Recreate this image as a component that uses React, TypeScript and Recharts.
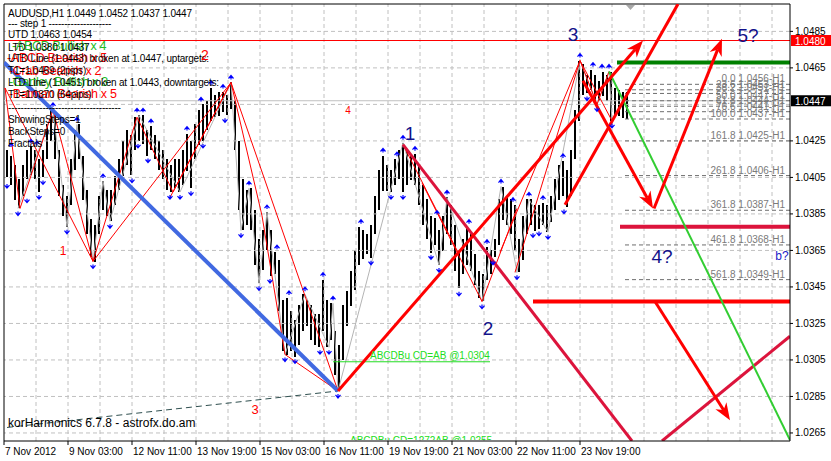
import React from 'react';
import { ComposedChart, Bar, Scatter, Line, XAxis, YAxis, ReferenceLine } from 'recharts';

const FONT = "'Liberation Sans', Arial, Helvetica, sans-serif";

// 2-hour bars (high / low)
const barHighs = [
  1.0420, 1.0417, 1.0412, 1.0404, 1.0412, 1.0420, 1.0422, 1.0420, 1.0415, 1.0420,
  1.0434, 1.0442, 1.0439, 1.0420, 1.0401, 1.0395, 1.0415, 1.0431, 1.0434, 1.0417,
  1.0398, 1.0382, 1.0379, 1.0395, 1.0403, 1.0398, 1.0398, 1.0406, 1.0415, 1.0425,
  1.0431, 1.0428, 1.0438, 1.0439, 1.0439, 1.0431, 1.0433, 1.0428, 1.0425, 1.0420,
  1.0415, 1.0412, 1.0415, 1.0415, 1.0420, 1.0429, 1.0425, 1.0434, 1.0442, 1.0445,
  1.0447, 1.0454, 1.0450, 1.0452, 1.0452, 1.0450, 1.0457, 1.0447, 1.0425, 1.0404,
  1.0398, 1.0399, 1.0387, 1.0371, 1.0376, 1.0386, 1.0376, 1.0364, 1.0360, 1.0338,
  1.0339, 1.0332, 1.0327, 1.0335, 1.0341, 1.0338, 1.0335, 1.0330, 1.0330, 1.0349,
  1.0338, 1.0336, 1.0321, 1.0313, 1.0335, 1.0343, 1.0354, 1.0365, 1.0378, 1.0376,
  1.0374, 1.0379, 1.0395, 1.0409, 1.0417, 1.0412, 1.0409, 1.0415, 1.0420, 1.0424,
  1.0420, 1.0417, 1.0418, 1.0412, 1.0401, 1.0393, 1.0384, 1.0383, 1.0376, 1.0384,
  1.0394, 1.0390, 1.0379, 1.0365, 1.0371, 1.0378, 1.0374, 1.0363, 1.0354, 1.0352,
  1.0367, 1.0365, 1.0371, 1.0393, 1.0400, 1.0395, 1.0393, 1.0390, 1.0371, 1.0384,
  1.0393, 1.0393, 1.0390, 1.0390, 1.0391, 1.0390, 1.0395, 1.0404, 1.0412, 1.0414,
  1.0409, 1.0420, 1.0442, 1.0469, 1.0467, 1.0461, 1.0464, 1.0461, 1.0458, 1.0463,
  1.0461, 1.0463, 1.0454, 1.0453, 1.0452, 1.0452,
];
const barLows = [
  1.0405, 1.0401, 1.0393, 1.0388, 1.0395, 1.0404, 1.0406, 1.0404, 1.0397, 1.0405,
  1.0415, 1.0425, 1.0415, 1.0395, 1.0384, 1.0378, 1.0390, 1.0409, 1.0415, 1.0393,
  1.0374, 1.0361, 1.0359, 1.0374, 1.0387, 1.0384, 1.0381, 1.0390, 1.0398, 1.0406,
  1.0412, 1.0406, 1.0420, 1.0425, 1.0423, 1.0417, 1.0420, 1.0415, 1.0409, 1.0404,
  1.0398, 1.0397, 1.0399, 1.0397, 1.0401, 1.0409, 1.0399, 1.0415, 1.0423, 1.0425,
  1.0431, 1.0436, 1.0438, 1.0439, 1.0441, 1.0439, 1.0442, 1.0420, 1.0387, 1.0376,
  1.0379, 1.0376, 1.0357, 1.0347, 1.0354, 1.0365, 1.0351, 1.0352, 1.0332, 1.0310,
  1.0308, 1.0310, 1.0307, 1.0313, 1.0321, 1.0324, 1.0316, 1.0313, 1.0312, 1.0321,
  1.0312, 1.0316, 1.0297, 1.0288, 1.0305, 1.0324, 1.0335, 1.0343, 1.0357, 1.0360,
  1.0363, 1.0361, 1.0374, 1.0387, 1.0398, 1.0398, 1.0397, 1.0401, 1.0404, 1.0397,
  1.0401, 1.0404, 1.0401, 1.0390, 1.0379, 1.0371, 1.0364, 1.0368, 1.0357, 1.0365,
  1.0374, 1.0368, 1.0354, 1.0344, 1.0352, 1.0357, 1.0354, 1.0346, 1.0339, 1.0337,
  1.0349, 1.0352, 1.0361, 1.0368, 1.0382, 1.0379, 1.0374, 1.0365, 1.0353, 1.0360,
  1.0374, 1.0379, 1.0376, 1.0377, 1.0379, 1.0375, 1.0381, 1.0387, 1.0393, 1.0395,
  1.0389, 1.0395, 1.0415, 1.0436, 1.0450, 1.0451, 1.0453, 1.0445, 1.0447, 1.0450,
  1.0447, 1.0436, 1.0438, 1.0439, 1.0438, 1.0437,
];

const timeTicks = [-0.75, 15.25, 31.25, 47.25, 63.25, 79.25, 95.25, 111.25, 127.25, 143.25];
const timeLabels = ['7 Nov 2012', '9 Nov 03:00', '12 Nov 11:00', '13 Nov 19:00', '15 Nov 03:00',
  '16 Nov 11:00', '19 Nov 19:00', '21 Nov 03:00', '22 Nov 11:00', '23 Nov 19:00'];
const priceTicks = [1.0265, 1.0285, 1.0305, 1.0325, 1.0345, 1.0365, 1.0385, 1.0405, 1.0425, 1.0465, 1.0485];
const gridPrices = [1.0265, 1.0285, 1.0305, 1.0325, 1.0345, 1.0365, 1.0385, 1.0405, 1.0425, 1.0445, 1.0465, 1.0485];
const gridIdx = Array.from({ length: 24 }, (_, k) => -0.75 + 8 * (k + 1));

const fractalUp = [
  [1, 1.0420], [6, 1.0422], [7.5, 1.0421], [11.5, 1.0442], [17.5, 1.0434], [24, 1.0403],
  [32.5, 1.0439], [34, 1.0439], [36, 1.0433], [45, 1.0429], [48.5, 1.0445], [51, 1.0454],
  [54, 1.0452], [56, 1.0457], [60.5, 1.0399], [65, 1.0386], [67.5, 1.0364], [70.5, 1.0339],
  [74.5, 1.0341], [79, 1.0349], [81.5, 1.0336], [88.5, 1.0378], [94, 1.0417], [97.5, 1.0415],
  [99, 1.0424], [102, 1.0418], [107.5, 1.0383], [110, 1.0394], [115.5, 1.0378], [120, 1.0367],
  [123.5, 1.0400], [126.5, 1.0390], [130.5, 1.0393], [134, 1.0391], [139, 1.0414],
  [143.25, 1.0469], [146.5, 1.0464], [148.75, 1.0463], [150.5, 1.0463],
];
const fractalDown = [
  [0, 1.0403], [2.75, 1.0388], [5, 1.0395], [8, 1.0397], [9, 1.0405], [15, 1.0378],
  [21.5, 1.0359], [25.75, 1.0381], [31.25, 1.0406], [32.75, 1.0425], [35.25, 1.0417],
  [40.75, 1.0397], [43.25, 1.0397], [46, 1.0399], [49, 1.0425], [54.5, 1.0439], [58.5, 1.0376],
  [63, 1.0347], [65.75, 1.0351], [69.5, 1.0308], [72, 1.0307], [78.25, 1.0312], [80.5, 1.0312],
  [82.75, 1.0288], [91, 1.0361], [96, 1.0397], [99, 1.0397], [106, 1.0364], [108, 1.0357],
  [113, 1.0344], [118.75, 1.0337], [121.5, 1.0361], [127.5, 1.0353], [131.5, 1.0376],
  [133, 1.0377], [135.25, 1.0375], [139.25, 1.0389], [145, 1.0451], [147.5, 1.0445], [151.25, 1.0436],
];
const zigzag = [
  [2.75, 1.0388], [11.5, 1.0442], [15, 1.0378], [17.5, 1.0434], [21.5, 1.0359], [24, 1.0403],
  [25.75, 1.0381], [33, 1.0439], [43.25, 1.0397], [56, 1.0457], [58.5, 1.0376], [60.5, 1.0399],
  [63, 1.0347], [65, 1.0386], [69.5, 1.0308], [74.5, 1.0341], [80.5, 1.0312], [81.5, 1.0336],
  [82.75, 1.0288], [99, 1.0424], [108, 1.0357], [110, 1.0394], [118.75, 1.0337], [123.5, 1.0400],
  [127.5, 1.0353], [130.5, 1.0393], [135.25, 1.0375], [143.25, 1.0469], [147.5, 1.0445],
  [150.5, 1.0463], [151.25, 1.0436],
];
const thinRed = [
  [-0.5, 1.0454, 3.25, 1.0388], [3.25, 1.0388, 11.5, 1.0442], [-0.5, 1.0454, 21.5, 1.0359],
  [11.5, 1.0442, 21.5, 1.0359], [21.5, 1.0359, 32.5, 1.0438], [21.5, 1.0359, 56, 1.0457],
  [32.5, 1.0438, 41.5, 1.0397], [41.5, 1.0397, 56, 1.0457], [40.5, 1.0393, 55.5, 1.0455],
  [56, 1.0457, 82.75, 1.0288], [56, 1.0457, 63.75, 1.0384], [63.75, 1.0384, 69.5, 1.0308],
  [69.5, 1.0308, 82.75, 1.0288], [99, 1.0423, 112.75, 1.0364], [103.75, 1.0402, 118.75, 1.0337],
  [118.75, 1.0337, 127.5, 1.0388], [123.25, 1.0364, 143.25, 1.0469], [127, 1.0353, 143.25, 1.0469],
  [143.25, 1.0469, 147.5, 1.0445], [143.25, 1.0469, 151.25, 1.0436], [147.5, 1.0445, 150.5, 1.0463],
];
const redArrows = [
  [82.75, 1.0288, 159, 1.0480], [144, 1.0458, 161.5, 1.0388],
  [161.75, 1.0388, 178.75, 1.0481], [162, 1.0337, 180.75, 1.0272],
];
const thickRed = [[139.5, 1.0390, 167.75, 1.0500]];
const crimsonLines = [[99, 1.0423, 156.25, 1.02606], [163.75, 1.02606, 195.75, 1.0318]];
const greenLine = [150.5, 1.0463, 195.75, 1.02611];
const blueLine = [-0.75, 1.0468, 82.75, 1.0288];
const dashedBase = [0, 1.0268, 82.75, 1.0288];
const fibPct = ['0.0', '23.6', '38.2', '50.0', '61.8', '76.6', '100.0', '161.8', '261.8', '361.8', '461.8', '561.8'];
const fibPrice = [1.0456, 1.0453, 1.0451, 1.0447, 1.0444, 1.0441, 1.0437, 1.0425, 1.0406, 1.0387, 1.0368, 1.0349];

const X_END = 195.75;
const barData = barHighs.map((h, k) => ({ i: k, range: [barLows[k], h] }));
const toPts = (arr) => arr.map(([i, p]) => ({ i, p }));

function XTick(props) {
  const { x, y, index } = props;
  return <text x={x + 1} y={y + 8} fontSize={10} fontFamily={FONT} fill="#000">{timeLabels[index]}</text>;
}
function YTick(props) {
  const { x, y, payload } = props;
  return <text x={x} y={y + 3.5} fontSize={10} fontFamily={FONT} fill="#000">{Number(payload.value).toFixed(4)}</text>;
}
const BarShape = (props) => {
  const { x, y, width, height } = props;
  if (height == null || isNaN(y)) return null;
  const cx = Math.round(x + width / 2);
  return <rect x={cx - 1} y={Math.round(y)} width={2} height={Math.max(1, Math.round(height))} fill="#000" shapeRendering="crispEdges" />;
};
const UpFractal = (props) => {
  const { cx, cy } = props;
  return <path d={`M${cx - 2.5},${cy - 4} L${cx},${cy - 7} L${cx + 2.5},${cy - 4} M${cx},${cy - 7} L${cx},${cy - 3}`} stroke="#0000ff" strokeWidth={1.2} fill="none" />;
};
const DownFractal = (props) => {
  const { cx, cy } = props;
  return <path d={`M${cx - 2.5},${cy + 4} L${cx},${cy + 7} L${cx + 2.5},${cy + 4} M${cx},${cy + 7} L${cx},${cy + 3}`} stroke="#0000ff" strokeWidth={1.2} fill="none" />;
};
const arrowShape = (color, width) => (props) => {
  const { x1, y1, x2, y2 } = props;
  const dx = x2 - x1, dy = y2 - y1, len = Math.hypot(dx, dy) || 1;
  const ux = dx / len, uy = dy / len, px = -uy, py = ux;
  const hl = 17, hw = 6.5;
  const bx = x2 - ux * hl, by = y2 - uy * hl;
  const nx = bx + ux * 5, ny = by + uy * 5;
  return (
    <g>
      <line x1={x1} y1={y1} x2={nx} y2={ny} stroke={color} strokeWidth={width} />
      <polygon points={`${x2},${y2} ${bx + px * hw},${by + py * hw} ${nx},${ny} ${bx - px * hw},${by - py * hw}`} fill={color} />
    </g>
  );
};
const priceBox = (bg, text) => (p) => {
  const vb = p.viewBox || {};
  const x = vb.x + vb.width;
  const y = vb.y;
  return (
    <g>
      <rect x={x + 1} y={y - 5.5} width={40} height={11} fill={bg} />
      <text x={x + 5} y={y + 4} fontSize={10} fontFamily={FONT} fill="#fff">{text}</text>
    </g>
  );
};
const fibLabel = (text) => (p) => {
  const vb = p.viewBox || {};
  return <text x={vb.x + vb.width - 5} y={vb.y - 2} textAnchor="end" fontSize={10} fontFamily={FONT} fill="#7a7a7a">{text}</text>;
};
const seg = (a) => [{ x: a[0], y: a[1] }, { x: a[2], y: a[3] }];

const headerLines = [
  [13, 'AUDUSD,H1  1.0449 1.0452 1.0437 1.0447'],
  [23, '---   step 1   --------------------'],
  [34, 'UTD 1.0463  1.0454'],
  [47, 'LTD 1.0380  1.0437'],
  [58, 'UTD Line (1.0443) broken at 1.0447, uptargets:'],
  [70, 'T1=1.0469 (2pips)'],
  [82, 'LTD Line (1.0451) broken at 1.0443, downtargets:'],
  [94, 'T1=1.0370 (64pips)'],
  [107, '------------------------------------'],
  [119, 'ShowingSteps=1'],
  [131, 'BackSteps=0'],
  [143, 'Fractals'],
];
const patternLines = [
  [45, 12, '#22bb22', '-ABCD Bullish x 4'],
  [57, 7, '#ff0000', '-ABCD Bearish x 5'],
  [70, 9, '#ff0000', '-Crab Bearish x 2'],
  [81, 9, '#22bb22', '-Gartley Bullish x 3'],
  [93, 9, '#ff0000', '-Batman Bearish x 5'],
];
const waveLabels = [
  ['1', 410, 133], ['2', 488, 328], ['3', 573, 34], ['4?', 662, 256], ['5?', 748, 35],
];
const redNumbers = [['1', 63, 251, 12], ['2', 205, 55, 14], ['3', 255, 409, 13], ['4', 348, 110, 10]];

export default function App() {
  return (
    <div style={{ position: 'absolute', left: 0, top: 0, width: 831, height: 461, background: '#fff', overflow: 'hidden' }}>
      <ComposedChart width={831} height={461} data={barData} margin={{ top: 4, right: 0, bottom: 0, left: 4 }}>
        <XAxis dataKey="i" type="number" domain={[-0.75, X_END]} allowDataOverflow ticks={timeTicks}
          tick={<XTick />} tickSize={4} tickLine={{ stroke: '#000' }} axisLine={{ stroke: '#000' }} height={20} interval={0} />
        <YAxis orientation="right" type="number" domain={[1.02606, 1.05]} allowDataOverflow ticks={priceTicks}
          tick={<YTick />} tickSize={3} tickLine={{ stroke: '#000' }} axisLine={{ stroke: '#000' }} width={41} interval={0} />
        {gridPrices.map((p) => (
          <ReferenceLine key={'gy' + p} y={p} stroke="#c0c0c0" strokeDasharray="4 3" />
        ))}
        {gridIdx.map((g) => (
          <ReferenceLine key={'gx' + g} x={g} stroke="#c0c0c0" strokeDasharray="4 3" />
        ))}
        <ReferenceLine y={1.05} stroke="#000" />
        <ReferenceLine x={-0.75} stroke="#000" />
        <ReferenceLine y={1.0447} stroke="#c0c0c0" label={priceBox('#000', '1.0447')} />
        {fibPrice.map((p, k) => (
          <ReferenceLine key={'fib' + k} segment={[{ x: 154.5, y: p }, { x: X_END, y: p }]} stroke="#6e6e6e" strokeDasharray="4 3"
            label={fibLabel(`${fibPct[k]} ${p.toFixed(4)}-H1`)} />
        ))}
        <Line data={toPts(zigzag)} dataKey="p" stroke="#b4b4b4" strokeWidth={1} dot={false} isAnimationActive={false} type="linear" />
        <Bar dataKey="range" fill="#000" barSize={2} shape={BarShape} isAnimationActive={false} />
        {thinRed.map((a, k) => (
          <ReferenceLine key={'tr' + k} segment={seg(a)} stroke="#ff0000" strokeWidth={1} ifOverflow="hidden" />
        ))}
        <ReferenceLine segment={seg(dashedBase)} stroke="#2f4f4f" strokeWidth={1} strokeDasharray="6 4" ifOverflow="hidden" />
        <ReferenceLine segment={seg(blueLine)} stroke="#4169e1" strokeWidth={4} ifOverflow="hidden" />
        <ReferenceLine segment={[{ x: 81.5, y: 1.0304 }, { x: 120.75, y: 1.0304 }]} stroke="#22dd22" strokeWidth={1} />
        <ReferenceLine y={1.0480} stroke="#ff0000" strokeWidth={1} label={priceBox('#ff0000', '1.0480')} />
        <ReferenceLine segment={[{ x: 152.5, y: 1.0468 }, { x: X_END, y: 1.0468 }]} stroke="#008000" strokeWidth={4} ifOverflow="hidden" />
        <ReferenceLine segment={[{ x: 153.25, y: 1.0378 }, { x: X_END, y: 1.0378 }]} stroke="#dc143c" strokeWidth={4} ifOverflow="hidden" />
        <ReferenceLine segment={[{ x: 131.5, y: 1.0337 }, { x: X_END, y: 1.0337 }]} stroke="#ff0000" strokeWidth={4} ifOverflow="hidden" />
        {crimsonLines.map((a, k) => (
          <ReferenceLine key={'cr' + k} segment={seg(a)} stroke="#dc143c" strokeWidth={3} ifOverflow="hidden" />
        ))}
        <ReferenceLine segment={seg(greenLine)} stroke="#32cd32" strokeWidth={2} ifOverflow="hidden" />
        {thickRed.map((a, k) => (
          <ReferenceLine key={'thr' + k} segment={seg(a)} stroke="#ff0000" strokeWidth={3} ifOverflow="hidden" />
        ))}
        {redArrows.map((a, k) => (
          <ReferenceLine key={'ar' + k} segment={seg(a)} shape={arrowShape('#ff0000', 3)} ifOverflow="hidden" />
        ))}
        <Scatter data={toPts(fractalUp)} dataKey="p" shape={UpFractal} isAnimationActive={false} />
        <Scatter data={toPts(fractalDown)} dataKey="p" shape={DownFractal} isAnimationActive={false} />
      </ComposedChart>
      <svg width={831} height={461} style={{ position: 'absolute', left: 0, top: 0, pointerEvents: 'none' }}>
        <polygon points="626,5 635,5 630.5,10" fill="#a8a8a8" />
        {patternLines.map(([y, x, c, t], k) => (
          <text key={'pl' + k} x={x} y={y + 4.5} fontSize={12.5} fontFamily={FONT} fill={c} letterSpacing={-0.3}>{t}</text>
        ))}
        {headerLines.map(([y, t], k) => (
          <text key={'hl' + k} x={8} y={y + 3.5} fontSize={10} fontFamily={FONT} fill="#000" letterSpacing={-0.2}>{t}</text>
        ))}
        {redNumbers.map(([t, x, y, s], k) => (
          <text key={'rn' + k} x={x} y={y} fontSize={s} fontFamily={FONT} fill="#ff0000" textAnchor="middle" dominantBaseline="central">{t}</text>
        ))}
        {waveLabels.map(([t, x, y], k) => (
          <text key={'wl' + k} x={x} y={y} fontSize={19} fontFamily={FONT} fill="#12128a" textAnchor="middle" dominantBaseline="central">{t}</text>
        ))}
        <text x={782} y={256} fontSize={12} fontFamily={FONT} fill="#2020c8" textAnchor="middle" dominantBaseline="central">b?</text>
        <text x={370} y={359} fontSize={10} fontFamily={FONT} fill="#22dd22">ABCDBu CD=AB   @1.0304</text>
        <svg x={0} y={0} width={831} height={440}>
          <text x={350} y={444} fontSize={10} fontFamily={FONT} fill="#22dd22">ABCDBu CD=1272AB   @1.0255</text>
        </svg>
        <text x={8} y={427} fontSize={12} fontFamily={FONT} fill="#000">korHarmonics 6.7.8 - astrofx.do.am</text>
      </svg>
    </div>
  );
}
